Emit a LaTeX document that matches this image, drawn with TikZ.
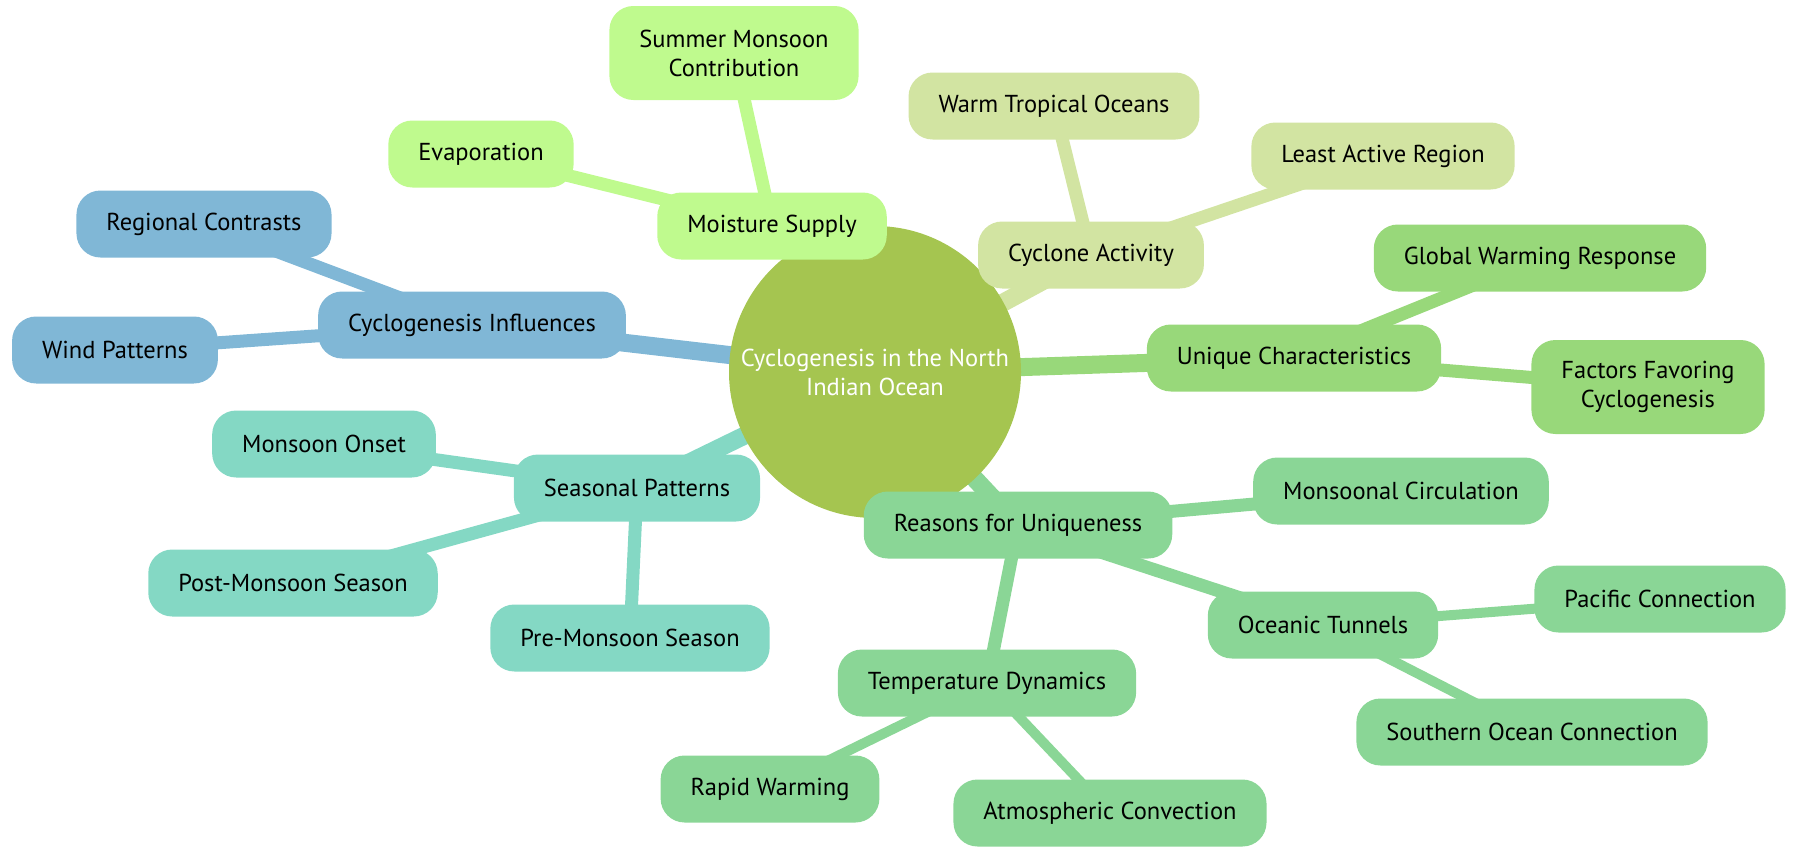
\documentclass[tikz,border=0pt]{standalone}
\usepackage{fontspec}
\setmainfont{PT Sans}
\usetikzlibrary{backgrounds}
\definecolor{rootc}{RGB}{165,197,80}
\definecolor{msc}{RGB}{191,250,142}
\definecolor{cac}{RGB}{210,228,162}
\definecolor{ucc}{RGB}{152,216,122}
\definecolor{cic}{RGB}{128,183,214}
\definecolor{spc}{RGB}{132,216,196}
\definecolor{ruc}{RGB}{138,214,150}
\begin{document}
\begin{tikzpicture}[x=1pt,y=-1pt,line join=round,line cap=round,
  box/.style={rounded corners=24pt,minimum height=67pt,inner xsep=30pt,align=center,
    font=\fontsize{24.5}{29}\selectfont},
  root/.style={circle,fill=rootc,minimum size=292pt,inner sep=0pt,text=white,align=center,
    font=\fontsize{24.5}{29}\selectfont},
  lvla/.style={line width=18pt},
  lvlb/.style={line width=13pt},
  lvlc/.style={line width=10pt}]
\useasboundingbox (0,0) rectangle (1799,846);
\node[root] (r) at (875,372) {Cyclogenesis in the North\\Indian Ocean};
% moisture
\node[box,fill=msc] (ms) at (772,226) {Moisture Supply};
\node[box,fill=msc,minimum height=94pt] (smc) at (734,53) {Summer Monsoon\\Contribution};
\node[box,fill=msc] (ev) at (481,154) {Evaporation};
% cyclone activity
\node[box,fill=cac] (ca) at (1091,255) {Cyclone Activity};
\node[box,fill=cac] (wto) at (1054,106) {Warm Tropical Oceans};
\node[box,fill=cac] (lar) at (1383,156) {Least Active Region};
% unique characteristics
\node[box,fill=ucc] (uc) at (1294,358) {Unique Characteristics};
\node[box,fill=ucc] (gwr) at (1540,258) {Global Warming Response};
\node[box,fill=ucc,minimum height=94pt] (ffc) at (1648,387) {Factors Favoring\\Cyclogenesis};
% influences
\node[box,fill=cic] (ci) at (472,325) {Cyclogenesis Influences};
\node[box,fill=cic] (rc) at (204,224) {Regional Contrasts};
\node[box,fill=cic] (wp) at (115,350) {Wind Patterns};
% seasons
\node[box,fill=spc] (sp) at (637,488) {Seasonal Patterns};
\node[box,fill=spc] (mo) at (324,444) {Monsoon Onset};
\node[box,fill=spc] (pos) at (293,583) {Post-Monsoon Season};
\node[box,fill=spc] (prs) at (630,638) {Pre-Monsoon Season};
% reasons
\node[box,fill=ruc] (ru) at (1018,525) {Reasons for Uniqueness};
\node[box,fill=ruc] (mc) at (1401,491) {Monsoonal Circulation};
\node[box,fill=ruc] (ot) at (1323,625) {Oceanic Tunnels};
\node[box,fill=ruc] (pc) at (1660,599) {Pacific Connection};
\node[box,fill=ruc] (soc) at (1532,732) {Southern Ocean Connection};
\node[box,fill=ruc] (td) at (987,683) {Temperature Dynamics};
\node[box,fill=ruc] (rw) at (770,789) {Rapid Warming};
\node[box,fill=ruc] (ac) at (1110,813) {Atmospheric Convection};
\begin{pgfonlayer}{background}
\draw[lvla,msc] (r.center) -- (ms.center);
\draw[lvlb,msc] (ms.center) -- (smc.center) (ms.center) -- (ev.center);
\draw[lvla,cac] (r.center) -- (ca.center);
\draw[lvlb,cac] (ca.center) -- (wto.center) (ca.center) -- (lar.center);
\draw[lvla,ucc] (r.center) -- (uc.center);
\draw[lvlb,ucc] (uc.center) -- (gwr.center) (uc.center) -- (ffc.center);
\draw[lvla,cic] (r.center) -- (ci.center);
\draw[lvlb,cic] (ci.center) -- (rc.center) (ci.center) -- (wp.center);
\draw[lvla,spc] (r.center) -- (sp.center);
\draw[lvlb,spc] (sp.center) -- (mo.center) (sp.center) -- (pos.center) (sp.center) -- (prs.center);
\draw[lvla,ruc] (r.center) -- (ru.center);
\draw[lvlb,ruc] (ru.center) -- (mc.center) (ru.center) -- (ot.center) (ru.center) -- (td.center);
\draw[lvlc,ruc] (ot.center) -- (pc.center) (ot.center) -- (soc.center)
  (td.center) -- (rw.center) (td.center) -- (ac.center);
\end{pgfonlayer}
\end{tikzpicture}
\end{document}
